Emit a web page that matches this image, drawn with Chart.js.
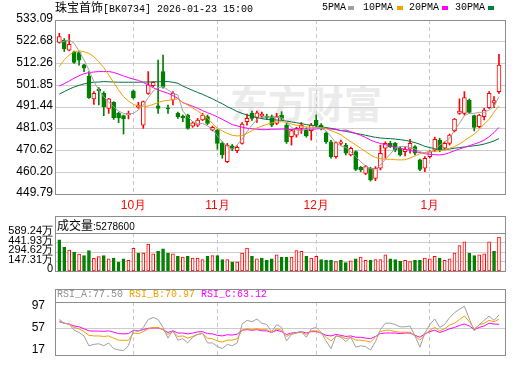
<!DOCTYPE html>
<html><head><meta charset="utf-8">
<script src="https://cdn.jsdelivr.net/npm/chart.js@4.4.1/dist/chart.umd.min.js"></script>
<style>
html,body{margin:0;padding:0;background:#fff;}
#wrap{position:relative;width:520px;height:365px;overflow:hidden;background:#fff;}
canvas{position:absolute;left:0;}
.t{position:absolute;white-space:nowrap;line-height:14px;color:#000;}
.cjk{font-family:"Noto Sans CJK SC",sans-serif;font-size:12px;}
.mono{font-family:"Liberation Mono",monospace;font-size:10px;}
.sq{position:absolute;width:6px;height:4px;}
</style></head><body>
<div id="wrap">
<div class="t" style="left:230px;top:80px;font:bold 38px 'Noto Sans CJK SC';line-height:44px;color:#ebebeb;">东方财富</div>
<canvas id="main" width="520" height="215" style="top:0"></canvas>
<canvas id="vol" width="520" height="68" style="top:213px"></canvas>
<canvas id="rsi" width="520" height="81" style="top:284px"></canvas>
<div class="t" style="left:55px;top:0px;"><span class="cjk">珠宝首饰</span><span class="mono">[BK0734] 2026-01-23 15:00</span></div>
<div class="t mono" style="left:322px;top:1px;">5PMA</div><div class="sq" style="left:348px;top:6px;background:#a0a0a0"></div>
<div class="t mono" style="left:363px;top:1px;">10PMA</div><div class="sq" style="left:397px;top:6px;background:#f0a000"></div>
<div class="t mono" style="left:409px;top:1px;">20PMA</div><div class="sq" style="left:442px;top:6px;background:#ff00ff"></div>
<div class="t mono" style="left:455px;top:1px;">30PMA</div><div class="sq" style="left:488px;top:6px;background:#008040"></div>
<div class="t" style="left:57px;top:218px;"><span class="cjk">成交量</span><span style="font-family:'Liberation Sans';font-size:10px">:5278600</span></div>
<div class="t mono" style="left:57px;top:288px;"><span style="color:#909090">RSI_A:77.50</span> <span style="color:#f0a000">RSI_B:70.97</span> <span style="color:#ff00ff">RSI_C:63.12</span></div>
</div>
<script>
const dates = ['09-10','09-11','09-12','09-15','09-16','09-17','09-18','09-19','09-22','09-23','09-24','09-25','09-26','09-29','09-30','10-09','10-10','10-13','10-14','10-15','10-16','10-17','10-20','10-21','10-22','10-23','10-24','10-27','10-28','10-29','10-30','10-31','11-03','11-04','11-05','11-06','11-07','11-10','11-11','11-12','11-13','11-14','11-17','11-18','11-19','11-20','11-21','11-24','11-25','11-26','11-27','11-28','12-01','12-02','12-03','12-04','12-05','12-08','12-09','12-10','12-11','12-12','12-15','12-16','12-17','12-18','12-19','12-22','12-23','12-24','12-25','12-26','12-29','12-30','12-31','01-05','01-06','01-07','01-08','01-09','01-12','01-13','01-14','01-15','01-16','01-19','01-20','01-21','01-22','01-23'];

const open = [522.4,523.5,518.7,517.9,517.5,511.6,506.3,495.3,500.0,498.0,
490.8,493.7,488.4,487.3,487.6,499.1,491.3,482.8,498.0,501.7,
492.0,508.4,491.1,494.8,488.4,487.1,487.6,482.3,482.8,485.2,
486.8,480.4,480.4,474.0,465.3,472.8,470.5,474.0,484.4,488.4,
486.5,487.0,487.1,486.8,483.6,487.6,482.8,477.2,478.0,481.2,
480.4,480.1,485.2,482.8,478.8,474.8,467.7,474.0,473.2,468.5,
470.1,462.6,459.7,462.1,457.3,462.1,471.7,474.0,474.0,471.7,
470.1,471.2,472.5,466.1,462.1,467.7,470.9,475.6,471.7,474.0,
480.1,488.4,488.4,494.8,487.3,482.0,486.8,491.1,493.4,498.8];
const high = [526.7,524.2,526.2,518.2,518.0,511.9,508.4,498.8,500.7,498.8,
495.6,494.0,488.9,487.6,489.5,499.6,493.7,494.3,508.4,503.5,
513.9,516.3,492.4,498.8,489.0,487.6,488.0,484.4,486.0,488.4,
487.6,482.3,480.7,474.8,474.0,473.5,472.8,484.0,488.0,489.5,
489.5,489.0,488.0,487.6,488.4,489.2,483.6,480.7,481.7,484.0,
481.5,483.6,487.6,483.5,479.5,475.5,474.8,475.6,474.0,472.3,
470.5,463.0,463.5,462.6,462.9,473.2,474.8,475.0,474.5,472.5,
472.5,476.0,473.0,466.5,467.7,470.5,477.0,476.5,474.8,478.5,
486.0,495.3,498.8,495.3,487.6,488.0,490.8,498.8,496.4,516.7];
const low = [522.0,518.0,518.3,512.3,511.5,508.4,495.6,492.7,492.4,487.3,
488.4,485.5,483.9,478.5,485.7,495.3,490.8,481.2,497.5,501.2,
488.4,500.4,488.4,492.4,486.0,484.4,480.8,481.7,482.0,484.9,
483.0,480.0,471.2,466.9,464.8,470.5,469.6,473.6,482.8,485.0,
484.0,486.0,485.5,482.0,483.0,485.2,474.0,473.2,477.0,478.8,
477.0,475.6,482.0,480.5,474.0,467.0,466.9,473.2,468.5,468.0,
461.0,460.5,459.0,456.0,456.2,461.3,466.9,472.0,470.0,468.0,
468.0,469.3,468.5,461.0,460.5,467.0,470.0,470.0,470.9,473.2,
479.5,487.9,487.6,488.4,480.0,481.5,485.2,490.8,491.1,498.0];
const close = [525.1,519.2,521.4,512.8,513.9,510.0,495.9,498.0,499.1,491.6,
495.3,486.3,486.3,485.7,488.4,495.9,492.4,494.0,502.0,503.2,
490.8,501.2,490.5,498.0,486.8,486.2,481.2,483.9,485.2,487.6,
483.6,481.7,474.0,468.5,473.2,471.2,472.1,483.3,486.0,486.0,
488.7,488.0,486.5,482.8,486.8,486.0,474.8,480.1,481.2,482.8,
477.6,482.8,482.8,481.2,474.8,467.7,474.4,474.8,469.3,471.7,
461.6,461.3,462.9,456.5,462.1,469.3,474.0,472.5,470.9,468.5,
471.2,474.0,469.3,461.6,466.9,470.1,476.0,470.9,474.0,478.0,
485.6,489.5,495.9,488.9,481.7,487.6,490.0,498.0,494.5,511.5];

const ma5 = [521.9,523.0,523.5,521.9,518.3,513.9,509.2,503.6,499.6,496.4,
493.7,491.6,489.5,488.4,488.0,488.4,490.0,492.4,495.9,499.1,
500.7,501.2,499.6,498.0,497.2,489.5,486.8,484.4,483.3,483.6,
482.4,480.8,477.6,474.8,472.5,471.3,473.3,476.0,479.6,482.8,
485.5,486.5,486.8,486.5,486.5,486.2,484.4,481.7,480.4,480.1,
480.8,481.2,481.7,481.2,480.1,477.2,474.4,472.8,472.1,470.1,
467.7,465.3,463.2,461.9,461.8,463.7,466.4,468.9,471.7,472.5,
472.5,472.1,471.3,470.1,469.3,469.6,471.2,473.2,474.8,476.4,
480.4,483.6,487.3,488.4,488.4,488.9,488.9,490.0,491.6,496.4];
const ma10 = [510.8,514.0,516.3,517.9,518.3,517.9,517.1,515.5,513.1,510.3,
506.8,503.2,499.6,496.4,494.3,492.7,491.9,491.6,491.9,492.7,
493.5,494.3,494.6,495.0,495.3,493.7,492.4,491.0,489.5,487.9,
486.0,483.6,481.2,480.0,478.8,477.9,477.6,477.7,478.8,480.1,
481.4,482.3,483.1,483.8,484.3,484.4,484.1,483.3,482.7,482.2,
481.9,481.7,481.7,481.6,481.1,480.1,479.2,478.2,476.4,474.8,
473.3,471.7,470.1,468.5,467.3,466.7,466.4,466.4,466.2,466.1,
466.2,467.0,468.0,469.1,469.7,470.1,470.2,470.5,471.0,471.7,
472.5,473.7,475.3,476.9,478.5,480.7,483.3,485.5,489.0,492.0];
const ma20 = [501.5,502.6,503.9,505.2,506.4,507.4,507.9,508.2,508.4,508.4,
508.4,508.0,507.2,506.3,505.5,504.8,504.2,503.2,502.0,500.7,
499.6,498.8,498.0,496.9,495.6,493.5,492.7,491.8,490.8,489.7,
488.7,487.8,486.7,485.5,484.3,483.0,482.4,481.8,481.3,481.0,
480.8,480.6,480.6,480.8,480.8,480.9,480.8,480.6,480.8,480.9,
480.9,480.8,480.9,481.1,481.1,480.9,480.6,480.2,480.4,479.6,
478.8,477.9,476.9,475.6,474.7,474.0,473.4,472.8,472.1,471.7,
471.2,470.7,470.1,469.6,469.1,468.8,468.6,468.5,468.8,469.6,
470.5,471.3,472.1,472.9,473.7,474.5,475.6,477.2,479.2,481.7];
const ma30 = [497.6,498.8,500.0,501.0,501.8,502.5,503.0,503.3,503.4,503.6,
503.5,503.4,503.3,503.3,503.3,503.3,503.3,503.4,503.4,503.5,
503.5,503.6,503.6,503.3,502.8,501.5,500.4,499.4,498.4,497.5,
496.4,495.4,494.1,493.0,491.6,490.5,489.3,488.4,487.6,487.0,
486.3,485.9,485.5,485.4,485.2,485.1,484.7,484.3,483.9,483.5,
483.0,482.7,482.4,482.0,481.6,481.2,480.8,480.1,479.8,479.3,
478.8,478.4,477.9,477.4,476.9,476.6,476.4,476.3,476.1,475.8,
475.5,475.0,474.4,473.6,472.6,472.0,471.5,471.2,471.2,471.3,
471.7,472.0,472.3,472.6,472.9,473.2,473.7,474.4,475.2,476.3];

// volume in 万 (10k shares); volUp: 1 = red (up), 0 = green (down)
const volume = [484,370,329,295,266,244,320,202,228,244,
193,206,143,193,168,354,282,282,421,269,
307,345,282,269,231,219,231,206,206,181,
231,244,244,181,181,143,143,282,358,231,
193,206,168,193,253,219,219,219,320,307,
231,206,231,181,168,168,152,168,134,164,
193,219,168,168,181,181,253,193,181,156,
168,152,168,168,206,193,231,206,168,193,
282,396,455,282,244,253,269,455,307,527.86];
const volUp = [0,0,1,0,1,0,0,1,1,0, 1,0,0,0,1,1,0,1,1,1, 0,0,0,1,0,1,0,1,1,1,
0,1,0,0,1,0,1,1,1,0, 1,0,0,0,1,0,0,1,1,1, 0,1,1,0,0,0,1,0,0,1,
0,1,1,0,1,1,1,0,0,0, 1,1,0,0,1,1,1,0,1,1, 1,1,1,0,0,1,1,1,0,1];

const rsiA = [70.5,64.9,63.6,54.2,50.8,45.6,30.7,32.8,33.7,30.7,
35.0,26.4,24.3,23.4,30.7,54.2,52.1,58.5,70.5,73.5,
70.5,58.5,42.3,54.2,39.2,41.4,35.0,43.6,47.8,50.0,
35.0,35.0,29.4,26.4,32.8,30.7,35.0,63.6,69.2,67.1,
71.3,64.9,62.8,52.1,62.8,58.5,38.0,47.8,50.0,52.1,
43.6,56.4,58.5,50.8,38.0,26.4,45.6,43.6,37.1,43.6,
28.6,30.7,29.4,24.3,37.1,55.1,64.9,64.9,62.8,59.4,
59.4,60.7,45.6,28.6,50.0,62.8,71.3,58.5,62.8,73.5,
80.8,86.0,90.6,71.3,53.3,62.8,69.2,75.7,69.2,77.50];
const rsiB = [68.0,64.9,63.6,58.5,56.4,52.1,46.5,45.6,45.6,44.8,
45.6,42.3,39.2,38.8,39.2,50.0,49.1,52.1,56.4,58.5,
58.5,55.1,47.8,52.1,44.8,45.6,42.3,44.8,47.8,49.1,
42.3,41.4,38.0,36.3,39.2,39.2,41.4,54.2,56.4,55.1,
56.4,55.1,55.1,50.8,56.4,54.2,44.8,49.1,50.0,51.3,
47.8,53.3,53.3,50.0,43.6,38.0,45.6,44.8,41.4,43.6,
39.2,39.2,38.0,36.3,43.6,52.1,54.2,54.2,52.1,51.3,
51.3,51.3,45.6,39.2,47.8,54.2,58.5,53.3,56.4,62.0,
64.9,70.5,75.7,67.1,56.4,62.0,64.9,69.2,67.1,70.97];
const rsiC = [67.1,64.9,63.6,60.7,59.4,56.4,53.3,52.9,52.9,52.5,
53.3,51.3,49.1,48.7,49.1,54.2,53.3,55.1,57.2,57.7,
57.7,55.1,50.8,53.3,50.0,50.0,48.7,50.0,51.7,52.1,
49.1,48.7,46.5,45.6,47.4,46.9,48.2,54.2,55.1,54.2,
55.1,53.3,53.3,50.8,54.2,52.1,47.8,50.0,50.8,52.1,
50.0,52.1,52.1,50.0,46.5,45.6,47.8,46.5,44.8,45.6,
43.6,43.6,42.3,41.4,44.8,49.1,50.0,50.0,50.0,49.1,
50.0,50.0,46.5,43.6,48.7,52.1,54.2,50.8,53.3,56.4,
58.5,61.5,63.6,60.7,55.1,58.5,60.7,64.9,63.6,63.12];

const priceTicks = [449.79,460.20,470.62,481.03,491.44,501.85,512.26,522.68,533.09];
const volTicks = [0,147.31,294.62,441.93,589.24];
const rsiTicks = [17,57,97];
const rsiRange = [17,97];

// ---------- drawing ----------
const N = dates.length;
const IDX = dates.map((d, i) => i);
const RED = '#ff0000', GREEN = '#008000';
const isUp = i => close[i] >= open[i];
const monthStarts = IDX.filter(i => i > 0 && dates[i].slice(0, 2) !== dates[i - 1].slice(0, 2));
const FONT = {family: 'Liberation Sans, Arial, sans-serif', size: 12};

const framePlugin = {
  id: 'frame',
  afterDraw(chart, args, opts) {
    const {ctx, chartArea: a} = chart;
    const L = Math.round(a.left) - 0.5, R = Math.round(a.right) + 0.5;
    const T = Math.round(a.top - (opts.header || 0)) + 0.5, B = Math.round(a.bottom) + 0.5;
    ctx.save();
    ctx.strokeStyle = '#8c8c8c';
    ctx.lineWidth = 1;
    ctx.strokeRect(L, T, R - L, B - T);
    if (opts.header) {
      ctx.beginPath();
      ctx.moveTo(L, Math.round(a.top) + 0.5);
      ctx.lineTo(R, Math.round(a.top) + 0.5);
      ctx.stroke();
    }
    ctx.restore();
  }
};

function xAxis(showLabels) {
  return {
    type: 'linear', offset: false, min: -0.67, max: N - 1 + 1.22,
    afterBuildTicks: s => { s.ticks = monthStarts.map(v => ({value: v})); },
    afterFit: s => { s.height = showLabels ? 21 : 0; },
    ticks: {display: showLabels, autoSkip: false, maxRotation: 0, color: RED, padding: 4, font: FONT,
      callback: v => parseInt(dates[v].slice(0, 2), 10) + '月'},
    grid: {color: '#c8c8c8', drawTicks: false, lineWidth: 1, offset: false},
    border: {display: false, dash: [4, 3]}
  };
}
const base = {
  responsive: false, animation: false, events: [], devicePixelRatio: 1,
};
const lineDs = (arr, color, yID) => ({
  type: 'line', data: IDX.map(i => ({x: i, y: arr[i]})), borderColor: color, borderWidth: 1,
  pointRadius: 0, fill: false, tension: 0, order: 0, yAxisID: yID || 'y'
});

// Main price chart
new Chart(document.getElementById('main'), {
  type: 'bar',
  data: {
    datasets: [
      lineDs(ma5, '#a0a0a0'), lineDs(ma10, '#f0a000'), lineDs(ma20, '#ff00ff'), lineDs(ma30, '#00703c'),
      {type: 'bar', data: IDX.map(i => ({x: i, y: [open[i], close[i]]})), barThickness: 4, grouped: false,
        borderSkipped: false, borderWidth: 1, order: 1,
        backgroundColor: c => isUp(c.dataIndex) ? '#ffffff' : GREEN,
        borderColor: c => isUp(c.dataIndex) ? RED : GREEN},
      {type: 'bar', data: IDX.map(i => ({x: i, y: [low[i], high[i]]})), barThickness: 1, grouped: false,
        borderWidth: 0, order: 2,
        backgroundColor: c => isUp(c.dataIndex) ? RED : GREEN}
    ]
  },
  options: Object.assign({}, base, {
    layout: {padding: {left: 0, right: 15, top: 20, bottom: 0}},
    plugins: {legend: {display: false}, tooltip: {enabled: false}, frame: {}},
    scales: {
      x: xAxis(true),
      y: {
        min: priceTicks[0], max: priceTicks[priceTicks.length - 1],
        afterBuildTicks: s => { s.ticks = priceTicks.map(v => ({value: v})); },
        afterFit: s => { s.width = 56; },
        ticks: {color: '#000', font: FONT, padding: 3, autoSkip: false, labelOffset: -1, callback: v => v.toFixed(2)},
        grid: {color: '#cccccc', drawTicks: false},
        border: {display: false}
      }
    }
  }),
  plugins: [framePlugin]
});

// Volume chart
new Chart(document.getElementById('vol'), {
  type: 'bar',
  data: {
    datasets: [{
      data: IDX.map(i => ({x: i, y: volume[i]})), barThickness: 3, grouped: false,
      borderSkipped: false, borderWidth: 1,
      backgroundColor: c => volUp[c.dataIndex] ? '#ffffff' : GREEN,
      borderColor: c => volUp[c.dataIndex] ? RED : GREEN
    }]
  },
  options: Object.assign({}, base, {
    layout: {padding: {left: 0, right: 15, top: 20, bottom: 2}},
    plugins: {legend: {display: false}, tooltip: {enabled: false}, frame: {header: 17}},
    scales: {
      x: xAxis(false),
      y: {
        min: volTicks[0], max: volTicks[volTicks.length - 1],
        afterBuildTicks: s => { s.ticks = volTicks.map(v => ({value: v})); },
        afterFit: s => { s.width = 56; },
        ticks: {color: '#000', font: {family: FONT.family, size: 11}, padding: 3, autoSkip: false, labelOffset: -2,
          callback: v => v === 0 ? '0' : v.toFixed(2) + '万'},
        grid: {color: '#cccccc', drawTicks: false},
        border: {display: false}
      }
    }
  }),
  plugins: [framePlugin]
});

// RSI chart
new Chart(document.getElementById('rsi'), {
  type: 'line',
  data: {
    datasets: [lineDs(rsiA, '#a0a0a0'), lineDs(rsiB, '#f0a000'), lineDs(rsiC, '#ff00ff')]
  },
  options: Object.assign({}, base, {
    layout: {padding: {left: 0, right: 15, top: 18, bottom: 1}},
    plugins: {legend: {display: false}, tooltip: {enabled: false}, frame: {header: 13.5}},
    scales: {
      x: xAxis(false),
      y: {
        position: 'right', min: rsiRange[0], max: rsiRange[1],
        afterBuildTicks: s => { s.ticks = [{value: rsiTicks[1]}]; },
        afterFit: s => { s.width = 0; },
        ticks: {display: false},
        grid: {color: '#cccccc', drawTicks: false},
        border: {display: false}
      },
      yl: {
        position: 'left', min: 7.1, max: 104.4,
        afterBuildTicks: s => { s.ticks = rsiTicks.map(v => ({value: v})); },
        afterFit: s => { s.width = 56; },
        ticks: {color: '#000', font: FONT, padding: 3, autoSkip: false},
        grid: {display: false},
        border: {display: false}
      }
    }
  }),
  plugins: [framePlugin]
});
</script>
</body></html>
